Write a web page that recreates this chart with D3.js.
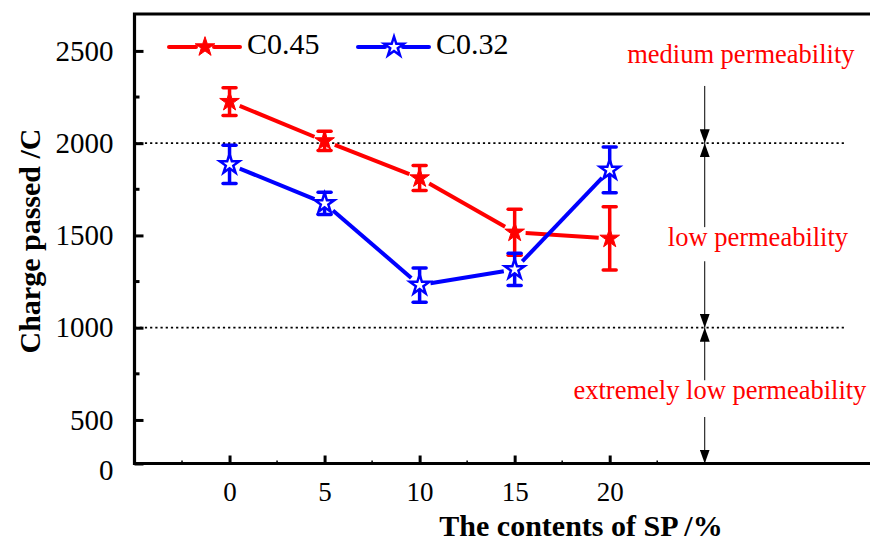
<!DOCTYPE html>
<html>
<head>
<meta charset="utf-8">
<script src="https://cdn.jsdelivr.net/npm/d3@7"></script>
<style>
  body { margin: 0; background: #fff; }
  text { font-family: "Liberation Serif", "Times New Roman", serif; }
</style>
</head>
<body>
<div id="chart"></div>
<script>
// SP content (%)
let xValues = [0, 5, 10, 15, 20];

// Charge passed (C)
let c045 = [2225, 2012, 1811, 1517, 1484];
let c045Err = [75, 52, 68, 125, 172];
let c032 = [1885, 1674, 1231, 1316, 1855];
let c032Err = [104, 60, 93, 88, 124];

// y axis: the bottom of the axis is labelled "0"
let yTickValues = [264, 500, 1000, 1500, 2000, 2500];
let yTickLabels = ["0", "500", "1000", "1500", "2000", "2500"];
let yMinorTicks = [750, 1250, 1750, 2250];
let xMinorTicks = [-2.5, 2.5, 7.5, 12.5, 17.5, 22.5];

// permeability limits and class labels
let limits = [1000, 2000];
let classLabels = ["medium permeability", "low permeability", "extremely low permeability"];
let classLabelPos = [[26.9, 2467], [27.8, 1475], [25.8, 646]];
// arrow segments along x = 25 : [from, to, arrow at "to" unless "start"]
let arrowX = 25;
let arrowSegs = [[2310, 2000], [2000, 1545, "start"], [1360, 1000], [1000, 715, "start"], [516, 264]];

let width = 870, height = 542;
let x = d3.scaleLinear().domain([-5, 33.8]).range([134.5, 872]);
let y = d3.scaleLinear().domain([264, 2700]).range([463.5, 14]);

let svg = d3.select("#chart").append("svg")
    .attr("width", width)
    .attr("height", height);

let red = "#ff0000", blue = "#0000ff";

// dotted limit lines
svg.selectAll(".limit")
    .data(limits)
    .enter()
    .append("line")
    .attr("x1", x(-5))
    .attr("x2", x(32.4))
    .attr("y1", d => y(d))
    .attr("y2", d => y(d))
    .style("stroke", "#000")
    .style("stroke-width", 1.7)
    .style("stroke-dasharray", "2.2,3");

// arrows
let defs = svg.append("defs");
defs.append("marker")
    .attr("id", "ah")
    .attr("viewBox", "0 0 14 10")
    .attr("refX", 14)
    .attr("refY", 5)
    .attr("markerWidth", 14)
    .attr("markerHeight", 10)
    .attr("markerUnits", "userSpaceOnUse")
    .attr("orient", "auto-start-reverse")
    .append("path")
    .attr("d", "M0,0L14,5L0,10Z")
    .attr("fill", "#000");

arrowSegs.forEach(function(s) {
    let ln = svg.append("line")
        .attr("x1", x(arrowX)).attr("x2", x(arrowX))
        .attr("y1", y(s[0])).attr("y2", y(s[1]))
        .style("stroke", "#000")
        .style("stroke-width", 1);
    if (s[2] === "start") ln.attr("marker-start", "url(#ah)");
    else ln.attr("marker-end", "url(#ah)");
});

svg.selectAll(".cls")
    .data(classLabels)
    .enter()
    .append("text")
    .attr("x", (d, i) => x(classLabelPos[i][0]))
    .attr("y", (d, i) => y(classLabelPos[i][1]))
    .attr("text-anchor", "middle")
    .attr("dominant-baseline", "middle")
    .attr("fill", red)
    .attr("font-size", 26.5)
    .text(d => d);

// axes
let yAxis = d3.axisLeft(y)
    .tickValues(yTickValues)
    .tickFormat((d, i) => yTickLabels[i])
    .tickSize(-9)
    .tickPadding(21);
let gy = svg.append("g")
    .attr("transform", "translate(" + x(-5) + ",0)")
    .call(yAxis);
gy.select(".domain").remove();
gy.selectAll(".tick line").style("stroke", "#000").style("stroke-width", 3);
gy.selectAll(".tick text")
    .attr("font-size", 29)
    .attr("font-family", "Liberation Serif")
    .attr("fill", "#000")
    .attr("dy", (d, i) => i === 0 ? "0.55em" : "0.32em");

gy.selectAll(".minor")
    .data(yMinorTicks)
    .enter()
    .append("line")
    .attr("x1", 0).attr("x2", 5)
    .attr("y1", d => y(d)).attr("y2", d => y(d))
    .style("stroke", "#000")
    .style("stroke-width", 3);

let xAxis = d3.axisBottom(x)
    .tickValues(xValues)
    .tickSize(-8)
    .tickPadding(18);
let gx = svg.append("g")
    .attr("transform", "translate(0," + y(264) + ")")
    .call(xAxis);
gx.select(".domain").remove();
gx.selectAll(".tick line").style("stroke", "#000").style("stroke-width", 3);
gx.selectAll(".tick text").attr("font-size", 27).attr("font-family", "Liberation Serif").attr("fill", "#000");

gx.selectAll(".minor")
    .data(xMinorTicks)
    .enter()
    .append("line")
    .attr("x1", d => x(d)).attr("x2", d => x(d))
    .attr("y1", 0).attr("y2", -3)
    .style("stroke", "#000")
    .style("stroke-width", 1.5);

// frame: left, bottom, top
svg.append("path")
    .attr("d", "M" + x(33.8) + "," + y(2700) + "H" + x(-5) + "V" + y(264) + "H" + x(33.8))
    .style("fill", "none")
    .style("stroke", "#000")
    .style("stroke-width", 3.2);

// axis titles
svg.append("text")
    .attr("x", 581)
    .attr("y", 536)
    .attr("text-anchor", "middle")
    .attr("font-size", 30)
    .attr("font-weight", "bold")
    .text("The contents of SP /%");

svg.append("text")
    .attr("transform", "translate(40," + 241 + ") rotate(-90)")
    .attr("text-anchor", "middle")
    .attr("font-size", 30)
    .attr("font-weight", "bold")
    .text("Charge passed /C");

// series
let star = d3.symbol().type(d3.symbolStar).size(120);
let gap = 11;

function drawSeries(vals, errs, color, hollow) {
    let g = svg.append("g");
    let pts = xValues.map((d, i) => [x(d), y(vals[i])]);

    // connecting lines with gaps around the symbols
    for (let i = 0; i < pts.length - 1; i++) {
        let a = pts[i], b = pts[i + 1];
        let dx = b[0] - a[0], dy = b[1] - a[1];
        let len = Math.sqrt(dx * dx + dy * dy);
        let ux = dx / len, uy = dy / len;
        g.append("line")
            .attr("x1", a[0] + ux * gap).attr("y1", a[1] + uy * gap)
            .attr("x2", b[0] - ux * gap).attr("y2", b[1] - uy * gap)
            .style("stroke", color)
            .style("stroke-width", 4);
    }

    // error bars
    xValues.forEach(function(d, i) {
        let cx = x(d);
        let top = y(vals[i] + errs[i]), bot = y(vals[i] - errs[i]);
        g.append("line").attr("x1", cx).attr("x2", cx).attr("y1", top).attr("y2", bot)
            .style("stroke", color).style("stroke-width", 3.5);
        [top, bot].forEach(function(yy) {
            g.append("line").attr("x1", cx - 6.5).attr("x2", cx + 6.5).attr("y1", yy).attr("y2", yy)
                .style("stroke", color).style("stroke-width", 3.5).style("stroke-linecap", "round");
        });
    });

    g.selectAll("path.pt")
        .data(pts)
        .enter()
        .append("path")
        .attr("d", star)
        .attr("transform", d => "translate(" + d[0] + "," + d[1] + ")")
        .style("fill", hollow ? "#fff" : color)
        .style("stroke", color)
        .style("stroke-width", hollow ? 2.5 : 1);
}

drawSeries(c045, c045Err, red, false);
drawSeries(c032, c032Err, blue, true);

// legend
let legend = [
    {name: "C0.45", color: red, hollow: false, x0: 169},
    {name: "C0.32", color: blue, hollow: true, x0: 358}
];
let ly = 47;
legend.forEach(function(l) {
    let lg = svg.append("g");
    lg.append("line").attr("x1", l.x0).attr("x2", l.x0 + 27).attr("y1", ly).attr("y2", ly)
        .style("stroke", l.color).style("stroke-width", 4).style("stroke-linecap", "round");
    lg.append("line").attr("x1", l.x0 + 45).attr("x2", l.x0 + 71).attr("y1", ly).attr("y2", ly)
        .style("stroke", l.color).style("stroke-width", 4).style("stroke-linecap", "round");
    lg.append("path")
        .attr("d", star)
        .attr("transform", "translate(" + (l.x0 + 36) + "," + ly + ")")
        .style("fill", l.hollow ? "#fff" : l.color)
        .style("stroke", l.color)
        .style("stroke-width", l.hollow ? 2.5 : 1);
    lg.append("text")
        .attr("x", l.x0 + 78)
        .attr("y", ly)
        .attr("dominant-baseline", "middle")
        .attr("font-size", 30)
        .text(l.name);
});
</script>
</body>
</html>
